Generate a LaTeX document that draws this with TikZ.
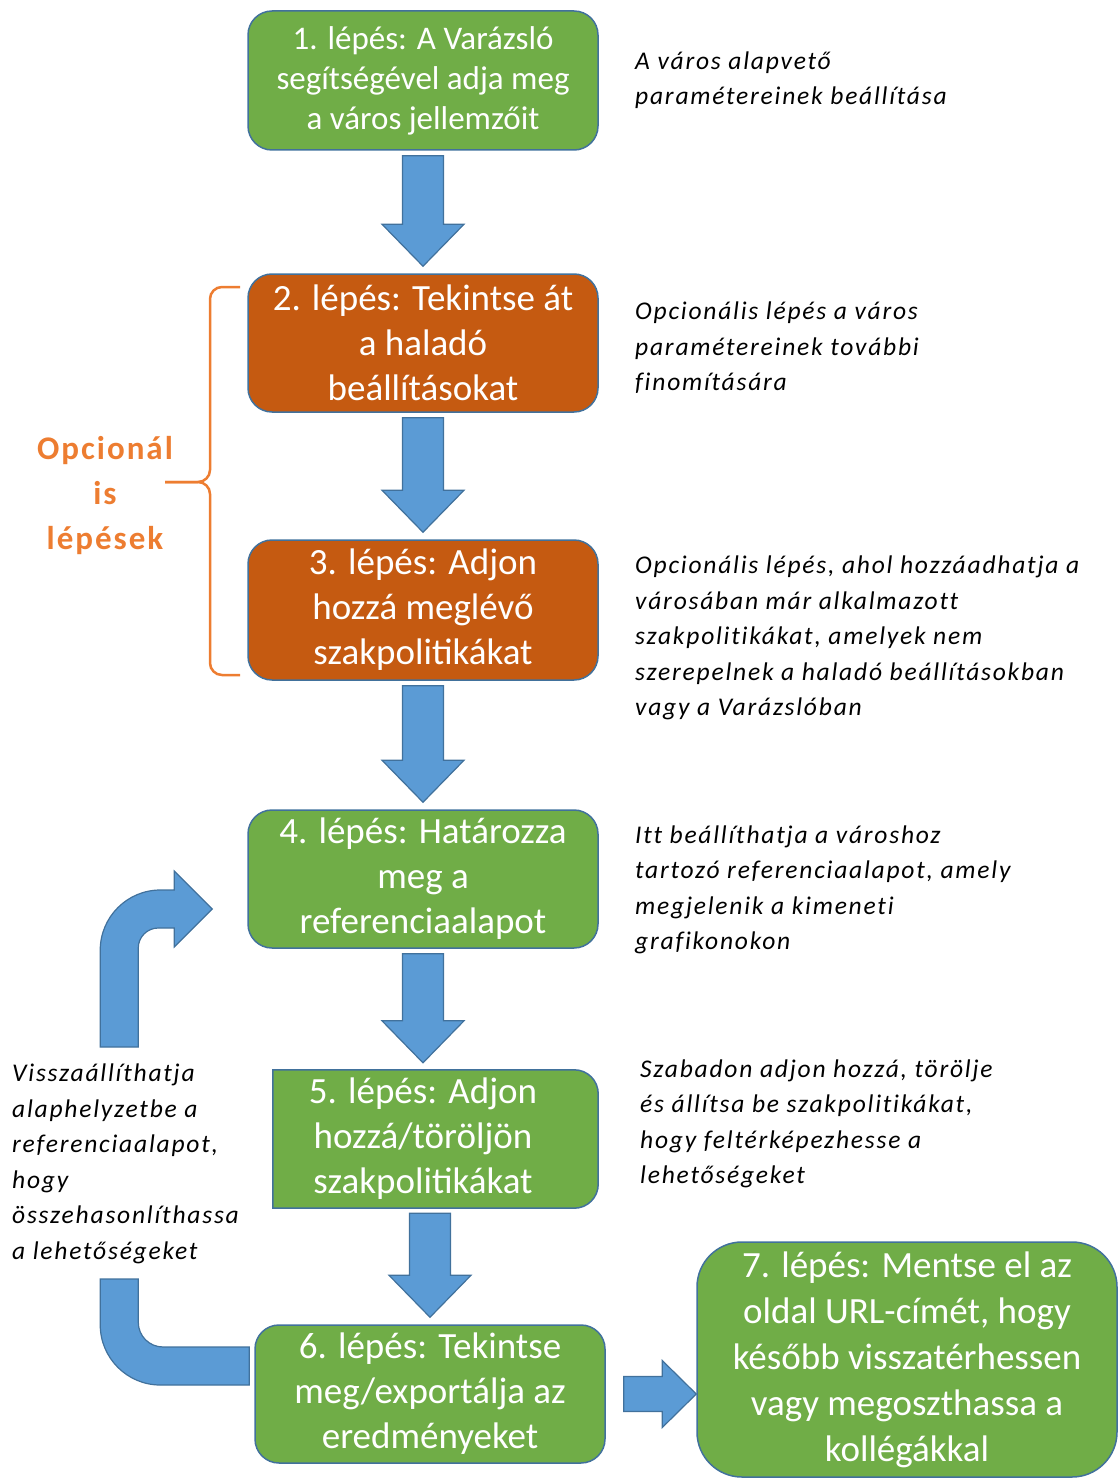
\documentclass[tikz,border=0pt]{standalone}
\usepackage{fontspec}
\setmainfont{Carlito}
\newfontfamily\notefont[LetterSpace=7,Ligatures=NoCommon]{Carlito}
\newfontfamily\optfont[LetterSpace=6,Ligatures=NoCommon]{Carlito}
\usetikzlibrary{calc}

\definecolor{stepgreen}{HTML}{70AD47}
\definecolor{steporange}{HTML}{C55A11}
\definecolor{stepedge}{HTML}{41719C}
\definecolor{flowblue}{HTML}{5B9BD5}
\definecolor{braceorange}{HTML}{ED7D31}

% block arrow pointing down: from, to, node giving the x position
\newcommand{\stepflow}[3]{%
 \draw[flowarrow] ($(#1.south -| #3)+(-20.5,5)$) -- ($(#1.south -| #3)+(20.5,5)$)
   -- ($(#2.north -| #3)+(20.5,-49)$) -- ($(#2.north -| #3)+(41,-49)$)
   -- ($(#2.north -| #3)+(0,-7)$) -- ($(#2.north -| #3)+(-41,-49)$)
   -- ($(#2.north -| #3)+(-20.5,-49)$) -- cycle;}

\begin{document}
\begin{tikzpicture}[x=1pt,y=-1pt,
 stepbox/.style={draw=stepedge,line width=1.5pt,rounded corners=24pt,text=white,align=center,
   minimum width=350pt,minimum height=138pt,inner sep=0pt,font=\fontsize{37}{45}\selectfont},
 flowarrow/.style={fill=flowblue,draw=stepedge,line width=1.2pt},
 note/.style={anchor=west,align=left,inner sep=0pt,font=\fontsize{25.5}{35.5}\selectfont\notefont\itshape}]
 \useasboundingbox (0,0) rectangle (1119,1479);

 % steps
 \node[stepbox,fill=stepgreen,minimum height=139pt,font=\fontsize{33}{40}\selectfont] (b1) at (423,80.5) {1. lépés: A Varázsló\\segítségével adja meg\\a város jellemzőit};
 \node[stepbox,fill=steporange] (b2) at (423,343) {2. lépés: Tekintse át\\a haladó\\beállításokat};
 \node[stepbox,fill=steporange,minimum height=140pt] (b3) at (423,610) {3. lépés: Adjon\\hozzá meglévő\\szakpolitikákat};
 \node[stepbox,fill=stepgreen] (b4) at (423,879) {4. lépés: Határozza\\meg a\\referenciaalapot};
 \node[minimum width=325pt,minimum height=138pt,inner sep=0pt] (b5) at (435.5,1139) {};
 \draw[fill=stepgreen,draw=stepedge,line width=1.5pt] (b5.south west) -- (b5.north west)
   -- ($(b5.north east)+(-24,0)$) .. controls ($(b5.north east)+(-10.7,0)$) and ($(b5.north east)+(0,10.7)$) .. ($(b5.north east)+(0,24)$)
   -- ($(b5.south east)+(0,-24)$) .. controls ($(b5.south east)+(0,-10.7)$) and ($(b5.south east)+(-10.7,0)$) .. ($(b5.south east)+(-24,0)$)
   -- cycle;
 \node[text=white,align=center,inner sep=0pt,font=\fontsize{37}{45}\selectfont] (b5txt) at (423,1139) {5. lépés: Adjon\\hozzá/töröljön\\szakpolitikákat};
 \node[stepbox,fill=stepgreen] (b6) at (430,1394) {6. lépés: Tekintse\\meg/exportálja az\\eredményeket};
 \node[stepbox,fill=stepgreen,rounded corners=45pt,minimum width=420pt,minimum height=235pt,font=\fontsize{37}{46}\selectfont] (b7) at (907,1359.5) {7. lépés: Mentse el az\\oldal URL-címét, hogy\\később visszatérhessen\\vagy megoszthassa a\\kollégákkal};

 % arrows
 \stepflow{b1}{b2}{b1}
 \stepflow{b2}{b3}{b2}
 \stepflow{b3}{b4}{b3}
 \stepflow{b4}{b5}{b4}
 \stepflow{b5}{b6}{b6}
 \draw[flowarrow] ($(b6.east)+(18,-17.5)$) -- ($(b7.west |- b6.east)+(-34,-17.5)$)
   -- ($(b7.west |- b6.east)+(-34,-33.5)$) -- (b7.west |- b6.east)
   -- ($(b7.west |- b6.east)+(-34,33.5)$) -- ($(b7.west |- b6.east)+(-34,17.5)$)
   -- ($(b6.east)+(18,17.5)$) -- cycle;

 % loop back to step 4
 \begin{scope}[shift={(b6.west)}]
  \draw[flowarrow] (-5,-9) -- (-94,-9) .. controls (-127,-9) and (-154,-36) .. (-154,-69)
    -- (-154,-115) -- (-116,-115) -- (-116,-72) .. controls (-116,-58) and (-105,-47) .. (-91,-47)
    -- (-5,-47) -- cycle;
 \end{scope}
 \begin{scope}[shift={(b4.west)}]
  \draw[flowarrow] (-109,168) -- (-147,168) -- (-147,71) .. controls (-147,38) and (-120,11) .. (-87,11)
    -- (-73,11) -- (-73,-8) -- (-35,30) -- (-73,68) -- (-73,49) -- (-89,49)
    .. controls (-100,49) and (-109,58) .. (-109,69) -- cycle;
 \end{scope}

 % optional steps
 \draw[braceorange,line width=2.5pt,rounded corners=12pt] (240,287) -- (210,287) -- (210,482) -- (165,482);
 \draw[braceorange,line width=2.5pt,rounded corners=12pt] (240,675) -- (210,675) -- (210,482) -- (165,482);
 \node[align=center,text=braceorange,inner sep=0pt,font=\fontsize{33}{45}\selectfont\optfont\bfseries] (opt) at (105,496) {Opcionál\\is\\lépések};

 % notes
 \node[note] (n1) at (635,80) {A város alapvető\\paramétereinek beállítása};
 \node[note] (n2) at (635,348) {Opcionális lépés a város\\paramétereinek további\\finomítására};
 \node[note] (n3) at (635,638) {Opcionális lépés, ahol hozzáadhatja a\\városában már alkalmazott\\szakpolitikákat, amelyek nem\\szerepelnek a haladó beállításokban\\vagy a Varázslóban};
 \node[note] (n4) at (635,890) {Itt beállíthatja a városhoz\\tartozó referenciaalapot, amely\\megjelenik a kimeneti\\grafikonokon};
 \node[note] (n5) at (640,1124) {Szabadon adjon hozzá, törölje\\és állítsa be szakpolitikákat,\\hogy feltérképezhesse a\\lehetőségeket};
 \node[note] (reset) at (12,1164) {Visszaállíthatja\\alaphelyzetbe a\\referenciaalapot,\\hogy\\összehasonlíthassa\\a lehetőségeket};
\end{tikzpicture}
\end{document}
